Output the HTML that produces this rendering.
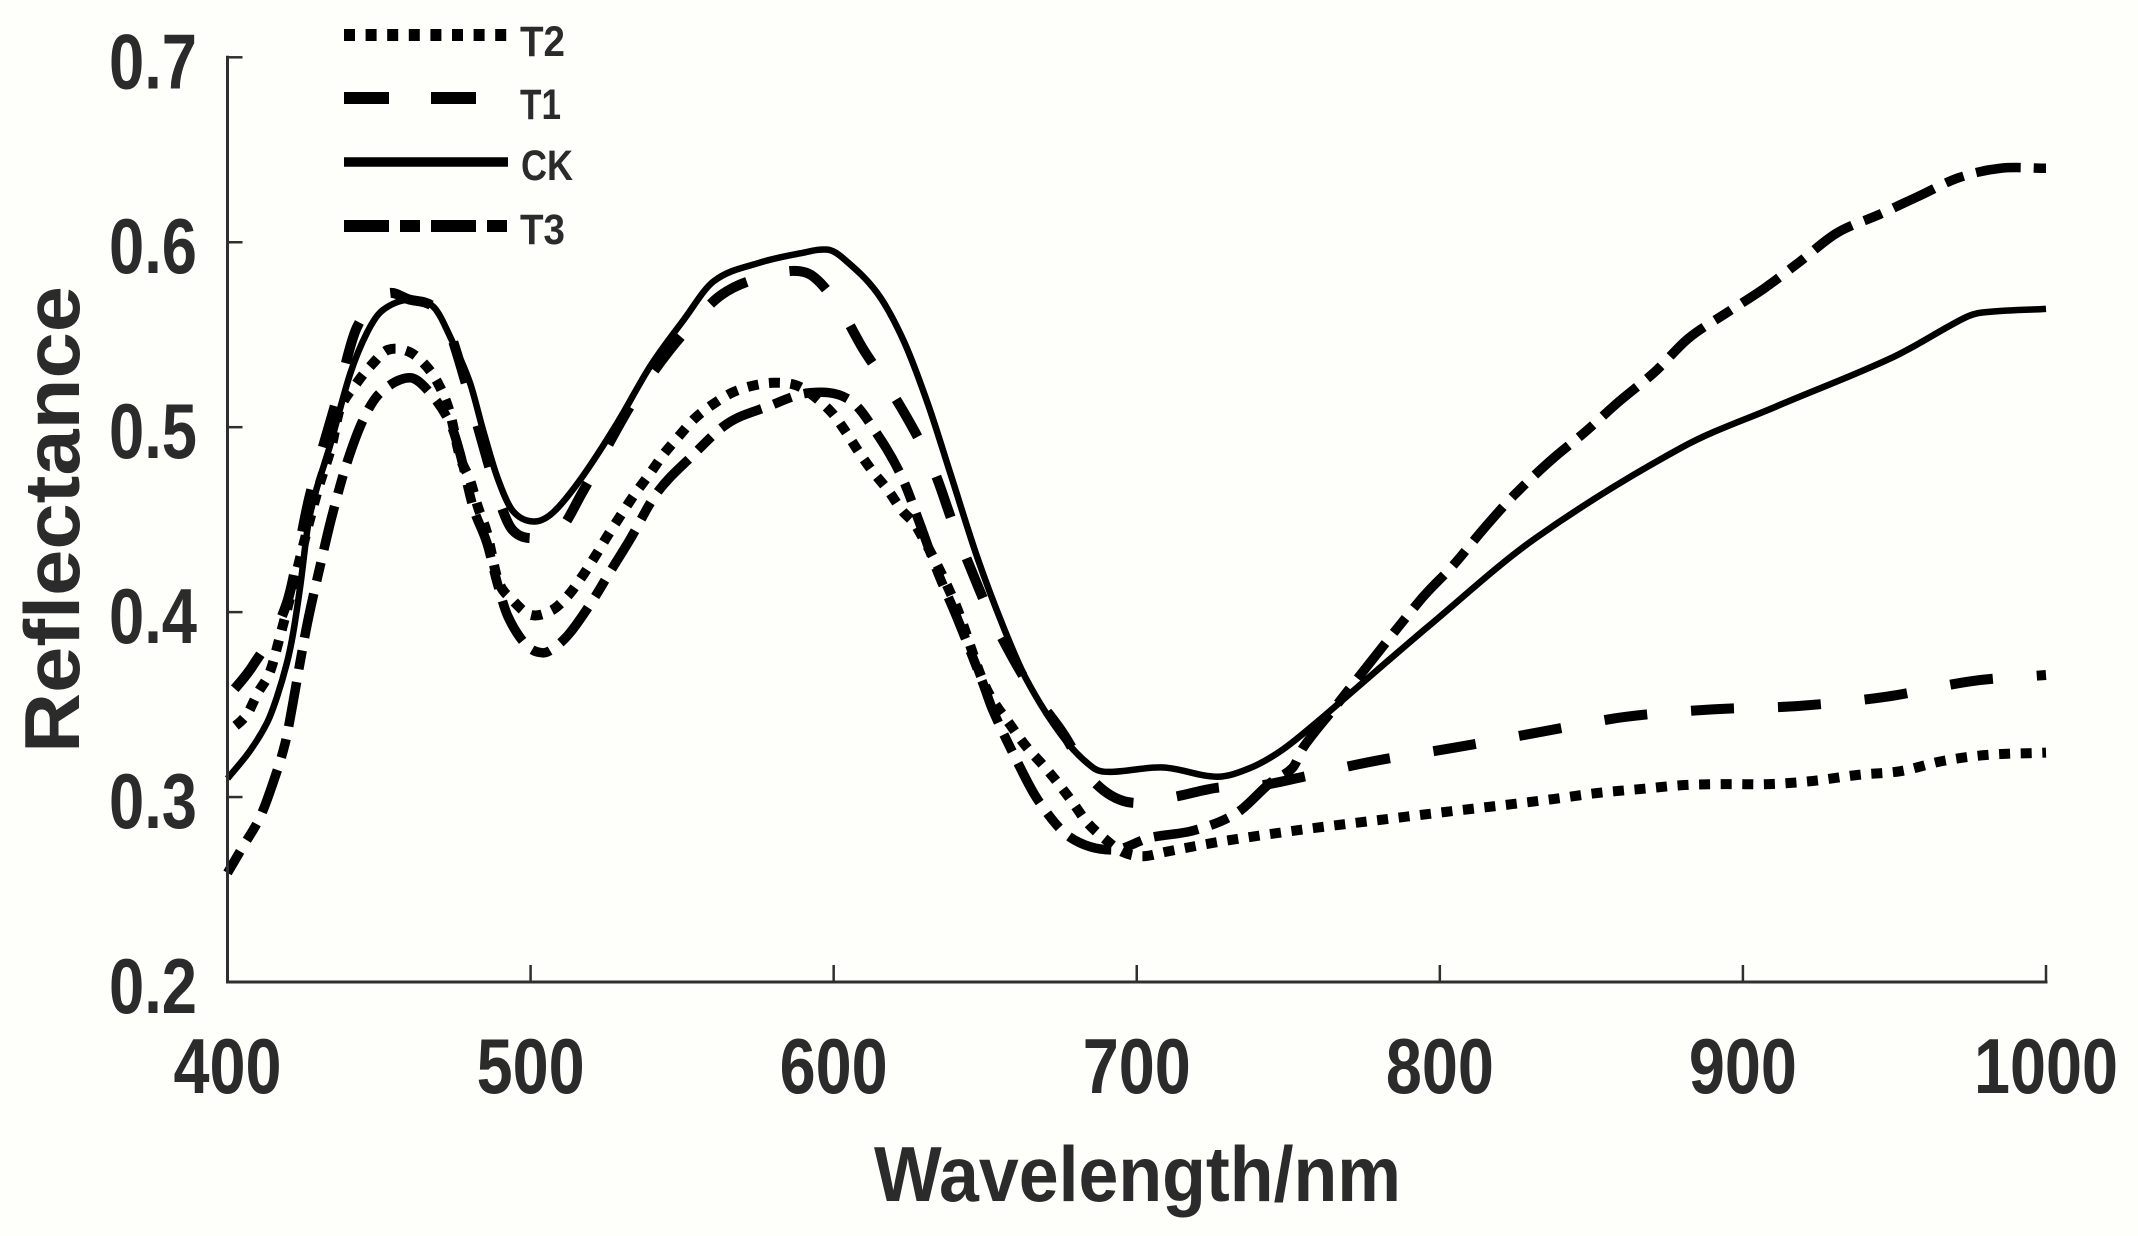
<!DOCTYPE html>
<html lang="en">
<head>
<meta charset="utf-8">
<title>Reflectance vs Wavelength</title>
<style>
html,body{margin:0;padding:0;background:#fefefb;}
svg{display:block;}
text{font-family:"Liberation Sans",Arial,sans-serif;font-weight:bold;fill:#2b2b2b;}
</style>
</head>
<body>
<svg id="chart" xmlns="http://www.w3.org/2000/svg" width="2138" height="1236" viewBox="0 0 2138 1236">
  <rect x="0" y="0" width="2138" height="1236" fill="#fefefb"/>
  <g id="series"></g>
  <g id="axes"></g>
  <text x="874" y="1201" font-size="78" textLength="527" lengthAdjust="spacingAndGlyphs">Wavelength/nm</text>
  <text transform="translate(79,753) rotate(-90)" font-size="78" textLength="467" lengthAdjust="spacingAndGlyphs">Reflectance</text>
  <g>
    <line x1="344" y1="35" x2="508" y2="35" stroke="#000" stroke-width="12" stroke-dasharray="11 10.6"/>
    <text x="520" y="56" font-size="43" textLength="45" lengthAdjust="spacingAndGlyphs">T2</text>
    <line x1="344" y1="98" x2="476" y2="98" stroke="#000" stroke-width="12" stroke-dasharray="45 42"/>
    <text x="520" y="119" font-size="43" textLength="41" lengthAdjust="spacingAndGlyphs">T1</text>
    <line x1="344" y1="162" x2="508" y2="162" stroke="#000" stroke-width="9.5"/>
    <text x="521" y="180" font-size="43" textLength="52" lengthAdjust="spacingAndGlyphs">CK</text>
    <line x1="344" y1="226" x2="507" y2="226" stroke="#000" stroke-width="12" stroke-dasharray="45 11 20 11"/>
    <text x="520" y="244" font-size="43" textLength="45" lengthAdjust="spacingAndGlyphs">T3</text>
  </g>
</svg>
<script>
const xTickValues = [400, 500, 600, 700, 800, 900, 1000];
const yTickValues = [0.2, 0.3, 0.4, 0.5, 0.6, 0.7];
const xTickLabels = ['400', '500', '600', '700', '800', '900', '1000'];
const yTickLabels = ['0.2', '0.3', '0.4', '0.5', '0.6', '0.7'];

const ckWavelengths = [400,407.4,413,416.3,419.6,421.7,424,427,434,440.5,446,451,460,468,474,480,484.3,489,494,501,507.5,517,528.5,539.5,550.5,560.5,575.7,589,598,603,614.3,623,631,638.5,647.3,656,663.7,675.6,685.5,691,708.8,726.4,737.4,748,759.5,770.4,796,831.6,879.8,910.7,949.7,973,979,1000];
const ckValues = [0.310,0.325,0.34,0.354,0.3725,0.389,0.414,0.451,0.491,0.529,0.551,0.563,0.569,0.565,0.547,0.524,0.4985,0.473,0.455,0.449,0.454,0.473,0.502,0.533,0.558,0.579,0.589,0.594,0.596,0.5915,0.5727,0.547,0.513,0.475,0.43,0.392,0.3633,0.3325,0.316,0.3136,0.316,0.311,0.3157,0.3255,0.3406,0.356,0.392,0.44,0.489,0.511,0.538,0.559,0.562,0.564];

const t1Wavelengths = [400,408.5,419.6,427,436,442.7,452.5,460,468,473.5,489,494,502,509.7,517,532.7,542.8,551.5,563,575.7,591,601,609.9,618,626.8,633.4,639.3,645,652.5,664.7,675.6,685.5,697,711.9,726.4,741.6,755,769,783.5,804.5,832.6,861,890,918.8,947.4,976,1000];
const t1Values = [0.354,0.3714,0.405,0.462,0.515,0.554,0.572,0.569,0.565,0.551,0.464,0.4445,0.44,0.4445,0.4645,0.511,0.535,0.5526,0.5716,0.5807,0.5835,0.567,0.5418,0.522,0.4975,0.4753,0.4482,0.4244,0.3958,0.3595,0.3347,0.309,0.2973,0.3,0.305,0.3065,0.311,0.3163,0.321,0.3266,0.335,0.3433,0.3474,0.3493,0.3543,0.3628,0.366];

const t2Wavelengths = [400,406.3,410,414,417,421,425.6,430,434.4,437,442.7,447.7,452.9,460,465.8,470,473.4,476.7,480,482.6,485.6,489.3,494,500,507,512.4,517.3,521.6,525.6,530,534.4,539.4,543.7,548.7,554,559.8,566.4,573,580,587,592,599.3,604,608.3,612.9,617.9,622.5,627.4,640,650,659,663.7,669,674,679,683.5,689,695.4,702,709.3,723,737.3,758.7,780,802,823,837.8,852,866.6,880.7,894.6,908.6,923,938,952,965.9,980.7,1000];
const t2Values = [0.335,0.3444,0.3563,0.3677,0.385,0.41,0.44,0.467,0.49,0.5094,0.524,0.534,0.5418,0.5407,0.5326,0.522,0.5077,0.484,0.4715,0.457,0.443,0.417,0.4066,0.3985,0.401,0.409,0.42,0.431,0.4418,0.453,0.4639,0.475,0.485,0.4947,0.5045,0.512,0.5186,0.5223,0.524,0.523,0.5186,0.508,0.4975,0.4866,0.476,0.466,0.455,0.446,0.405,0.36,0.3374,0.327,0.3174,0.3076,0.2968,0.2865,0.278,0.2703,0.268,0.2703,0.2746,0.2784,0.2833,0.2876,0.292,0.296,0.299,0.3022,0.3044,0.3065,0.307,0.307,0.3087,0.312,0.314,0.3195,0.3228,0.324];

const t3Wavelengths = [400,405,410.7,415,419,421.6,423.9,426.6,430.5,434.4,439.4,444.8,450.4,460.2,466.8,473.4,476.7,481,485.6,489,492.6,498.7,504,508,513,520.6,526,532.7,541.7,553,565,578,592.2,605.3,615,622.5,628.4,634,640.6,649.2,652.5,660.3,667.4,677.9,692,704.3,719,733,744,751.5,755,764.6,793.6,804.5,814.7,824.6,836.6,848,859,871,882,894.6,907,918.7,931,945,957.6,971.4,985,1000];
const t3Values = [0.259,0.273,0.289,0.3076,0.329,0.351,0.3725,0.396,0.4245,0.4515,0.4807,0.5042,0.5186,0.5267,0.5186,0.5023,0.486,0.457,0.4374,0.4158,0.3974,0.382,0.378,0.381,0.3888,0.4066,0.4212,0.439,0.4645,0.484,0.502,0.511,0.5186,0.5147,0.4947,0.473,0.448,0.4228,0.3974,0.3617,0.347,0.32,0.2984,0.2784,0.2714,0.278,0.282,0.2914,0.3076,0.316,0.327,0.347,0.4066,0.4255,0.4455,0.4634,0.482,0.4975,0.5137,0.53,0.548,0.5618,0.575,0.5894,0.605,0.615,0.6246,0.635,0.64,0.64];

const SVG_NS = 'http://www.w3.org/2000/svg';
const plotLeft = 227.5, plotRight = 2046, plotBottom = 982, plotTop = 57.3;
const xMin = 400, xMax = 1000, yMin = 0.2, yMax = 0.7;
function xScale(w) { return plotLeft + (w - xMin) * (plotRight - plotLeft) / (xMax - xMin); }
function yScale(v) { return plotBottom - (v - yMin) * (plotBottom - plotTop) / (yMax - yMin); }

function buildPath(wavelengths, values) {
  const xs = wavelengths.map(xScale);
  const ys = values.map(yScale);
  const n = xs.length;
  const slope = [];
  for (let i = 0; i < n; i++) {
    const a = Math.max(0, i - 1), b = Math.min(n - 1, i + 1);
    slope.push((ys[b] - ys[a]) / (xs[b] - xs[a]));
  }
  let d = 'M' + xs[0].toFixed(2) + ' ' + ys[0].toFixed(2);
  for (let i = 0; i < n - 1; i++) {
    const h = (xs[i + 1] - xs[i]) / 3;
    d += 'C' + (xs[i] + h).toFixed(2) + ' ' + (ys[i] + slope[i] * h).toFixed(2) + ' ' +
         (xs[i + 1] - h).toFixed(2) + ' ' + (ys[i + 1] - slope[i + 1] * h).toFixed(2) + ' ' +
         xs[i + 1].toFixed(2) + ' ' + ys[i + 1].toFixed(2);
  }
  return d;
}

const seriesGroup = document.getElementById('series');
const axesGroup = document.getElementById('axes');

function addSeries(name, wavelengths, values, width, dash, dashPeriod, phaseWavelength) {
  const p = document.createElementNS(SVG_NS, 'path');
  
  
  p.setAttribute('d', buildPath(wavelengths, values));
  p.setAttribute('fill', 'none');
  p.setAttribute('stroke', '#000');
  p.setAttribute('stroke-width', width);
  if (dash) p.setAttribute('stroke-dasharray', dash);
  seriesGroup.appendChild(p);
  if (dash) {
    const target = xScale(phaseWavelength);
    let lo = 0, hi = p.getTotalLength();
    for (let k = 0; k < 30; k++) {
      const mid = (lo + hi) / 2;
      if (p.getPointAtLength(mid).x < target) lo = mid; else hi = mid;
    }
    p.setAttribute('stroke-dashoffset', (dashPeriod - (lo % dashPeriod)).toFixed(2));
  }
}
addSeries('series-t2', t2Wavelengths, t2Values, 10, '11 10.6', 21.6, 899.7);
addSeries('series-t1', t1Wavelengths, t1Values, 10, '43 44', 87, 882.8);
addSeries('series-t3', t3Wavelengths, t3Values, 9.5, '45 13 19 13', 90, 875.9);
addSeries('series-ck', ckWavelengths, ckValues, 6.5, '', 0, 0);

function addLine(name, x1, y1, x2, y2, w) {
  const l = document.createElementNS(SVG_NS, 'line');
  
  
  l.setAttribute('x1', x1);
  l.setAttribute('y1', y1);
  l.setAttribute('x2', x2);
  l.setAttribute('y2', y2);
  l.setAttribute('stroke', '#2f2f2f');
  l.setAttribute('stroke-width', w);
  axesGroup.appendChild(l);
}
addLine('y-axis-line', plotLeft, plotTop - 1.5, plotLeft, plotBottom + 1.5, 3);
addLine('x-axis-line', plotLeft, plotBottom, plotRight + 1.5, plotBottom, 3);

function addLabel(name, text, x, y, length) {
  const t = document.createElementNS(SVG_NS, 'text');
  
  
  t.setAttribute('x', x);
  t.setAttribute('y', y);
  t.setAttribute('font-size', '78');
  t.setAttribute('textLength', length);
  t.setAttribute('lengthAdjust', 'spacingAndGlyphs');
  t.textContent = text;
  axesGroup.appendChild(t);
}

xTickValues.forEach(function (w, i) {
  const x = xScale(w);
  addLine('x-tick-' + xTickLabels[i], x, plotBottom, x, plotBottom - 17, 2.5);
  const len = xTickLabels[i].length * 36;
  addLabel('x-tick-label-' + xTickLabels[i], xTickLabels[i], x - len / 2, 1093, len);
});
yTickValues.forEach(function (v, i) {
  const y = yScale(v);
  addLine('y-tick-' + yTickLabels[i], plotLeft, y, plotLeft + 15, y, 2.5);
  addLabel('y-tick-label-' + yTickLabels[i], yTickLabels[i], 109, y + 31, 88);
});
</script>
</body>
</html>
